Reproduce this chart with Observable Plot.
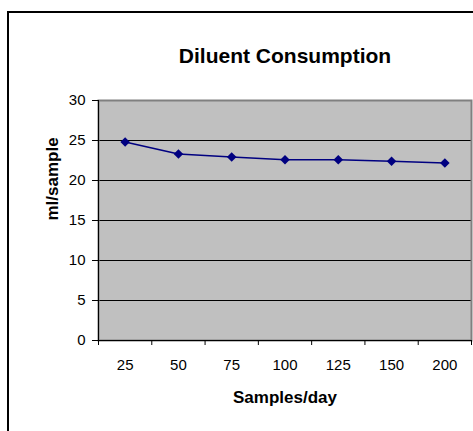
<!DOCTYPE html>
<html><head><meta charset="utf-8">
<script src="https://cdn.jsdelivr.net/npm/d3@7"></script>
<script src="https://cdn.jsdelivr.net/npm/@observablehq/plot@0.6"></script>
<style>
body{margin:0;background:#fff;}
#wrap{position:relative;width:473px;height:431px;overflow:hidden;}
#border{position:absolute;left:7px;top:11px;width:480px;height:440px;border:2px solid #000;box-sizing:border-box;pointer-events:none;}
</style></head><body><div id="wrap"></div>
<script>
const title = "Diluent Consumption";
const xTitle = "Samples/day";
const yTitle = "ml/sample";
const categories = ["25","50","75","100","125","150","200"];
const values = [24.8, 23.3, 22.95, 22.6, 22.6, 22.4, 22.2];
const yTicks = [0, 5, 10, 15, 20, 25, 30];

const data = categories.map((c, i) => ({i: i + 0.5, c, v: values[i]}));
const font = "'Liberation Sans', Arial, sans-serif";

const chart = Plot.plot({
  width: 473,
  height: 431,
  marginLeft: 98,
  marginRight: 2,
  marginTop: 100,
  marginBottom: 91,
  style: {fontFamily: font, fontSize: "15px", color: "#000", background: "transparent", overflow: "visible"},
  x: {type: "linear", domain: [0, categories.length], axis: null},
  y: {domain: [yTicks[0], yTicks[yTicks.length - 1]], axis: null},
  marks: [
    Plot.frame({fill: "#c0c0c0", stroke: "none"}),
    Plot.gridY(yTicks.slice(1, -1), {stroke: "#000", strokeOpacity: 1, strokeWidth: 1}),
    Plot.frame({stroke: "#808080", strokeWidth: 2, fill: "none"}),
    Plot.ruleX([0], {stroke: "#000", strokeWidth: 1}),
    Plot.ruleY([0], {stroke: "#000", strokeWidth: 1}),
    Plot.axisY(yTicks, {tickSize: 6, tickPadding: 7, label: null, stroke: "#000", fill: "#000", fontSize: 15}),
    Plot.axisX(d3.range(categories.length + 1), {tickSize: 5, tickFormat: () => "", label: null, stroke: "#000"}),
    Plot.axisX(data.map(d => d.i), {tickSize: 0, tickPadding: 19, tickFormat: i => categories[Math.floor(i)], label: null, fill: "#000", fontSize: 15}),
    Plot.line(data, {x: "i", y: "v", stroke: "#000080", strokeWidth: 1.5}),
    Plot.dot(data, {x: "i", y: "v", symbol: "diamond2", r: 4.3, fill: "#000080", stroke: "none"}),
    Plot.text([title], {text: d => d, frameAnchor: "top", lineAnchor: "middle", dy: -44, fontWeight: "bold", fontSize: 21, fill: "#000"}),
    Plot.text([xTitle], {text: d => d, frameAnchor: "bottom", lineAnchor: "middle", dy: 57, fontWeight: "bold", fontSize: 17, fill: "#000"}),
    Plot.text([yTitle], {text: d => d, frameAnchor: "left", lineAnchor: "middle", dx: -46, rotate: -90, fontWeight: "bold", fontSize: 17, fill: "#000"})
  ]
});
const wrap = document.getElementById("wrap");
wrap.appendChild(chart);
const b = document.createElement("div");
b.id = "border";
wrap.appendChild(b);
</script>
</body></html>
